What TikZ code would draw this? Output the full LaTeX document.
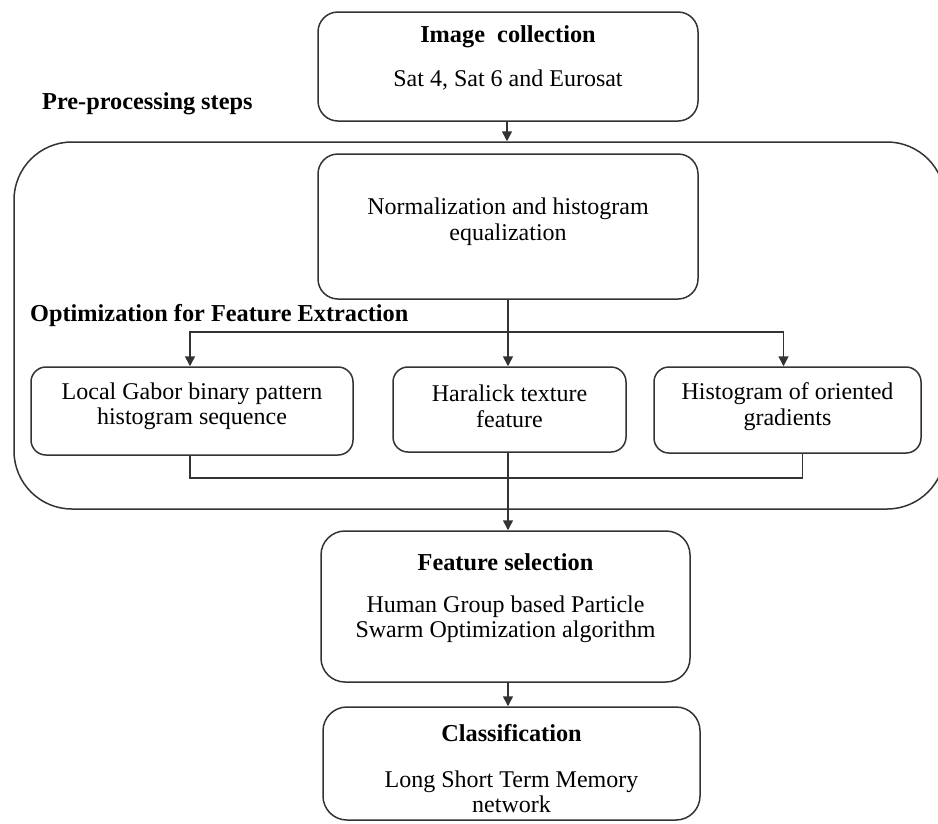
\documentclass[tikz,border=0pt]{standalone}
\usepackage{fontspec}
\setmainfont{Liberation Serif}
\usetikzlibrary{arrows.meta}
\begin{document}
\begin{tikzpicture}[x=1pt,y=-1pt,
  line/.style={draw=black!80, line width=1.5pt},
  arr/.style={line, -{Triangle[width=10pt,length=10pt]}},
  box/.style={line, rounded corners=20pt, inner sep=0pt},
  rowbox/.style={line, rounded corners=15pt, inner sep=0pt},
  txt/.style={inner sep=0pt, align=center, font=\fontsize{24}{25.5}\selectfont},
  ttl/.style={inner sep=0pt, align=center, font=\fontsize{24.3}{26}\selectfont\bfseries}]
\useasboundingbox (0,0) rectangle (938,823);
\clip (0,0) rectangle (938,823);
% boxes
\node[box, minimum width=380pt, minimum height=109pt] (img) at (508,66.5) {};
\node[line, rounded corners=58pt, minimum width=931pt, minimum height=367pt, inner sep=0pt] (pre) at (479.5,325.5) {};
\node[box, minimum width=380pt, minimum height=145pt] (norm) at (508,226.5) {};
\node[rowbox, minimum width=322pt, minimum height=88pt] (lg) at (192,411) {};
\node[rowbox, minimum width=233pt, minimum height=85pt] (har) at (509.5,409.5) {};
\node[rowbox, minimum width=267pt, minimum height=86pt] (hog) at (787.5,410) {};
\node[box, rounded corners=24pt, minimum width=369pt, minimum height=151pt] (fs) at (505.5,606.5) {};
\node[box, rounded corners=24pt, minimum width=377pt, minimum height=113pt] (cls) at (511.5,763.5) {};
% texts
\node[ttl] (imgT) at (508,37) {Image\ \ collection};
\node[txt] (imgS) at (508,80.5) {Sat 4, Sat 6 and Eurosat};
\node[ttl, anchor=west] (preL) at (42,103.5) {Pre-processing steps};
\node[txt] (normT) at (508,221.5) {Normalization and histogram\\equalization};
\node[ttl, anchor=west] (optL) at (30,315.5) {Optimization for Feature Extraction};
\node[txt] (lgT) at (192,406.5) {Local Gabor binary pattern\\histogram sequence};
\node[txt] (harT) at (509.5,406.5) {Haralick texture\\feature};
\node[txt] (hogT) at (787.5,406.5) {Histogram of oriented\\gradients};
\node[ttl] (fsT) at (505.5,562) {Feature selection};
\node[txt] (fsS) at (505.5,619.5) {Human Group based Particle\\Swarm Optimization algorithm};
\node[ttl] (clsT) at (511.5,733) {Classification};
\node[txt] (clsS) at (511.5,792) {Long Short Term Memory\\network};
% connectors
\coordinate (br) at (508,332);
\coordinate (col) at (508,478);
\draw[arr] ([xshift=-1pt]img.south) -- ([xshift=-1pt]img.south |- pre.north);
\draw[arr] (norm.south) -- (norm.south |- har.north);
\draw[arr] (br) -| ([xshift=-2pt]lg.north);
\draw[arr] (br) -| ([xshift=-4pt]hog.north);
\draw[line] ([xshift=-2pt]lg.south) |- (col) -| ([xshift=15pt]hog.south);
\draw[arr] (norm.south |- har.south) -- (norm.south |- fs.north);
\draw[arr] (norm.south |- fs.south) -- (norm.south |- cls.north);
\end{tikzpicture}
\end{document}
